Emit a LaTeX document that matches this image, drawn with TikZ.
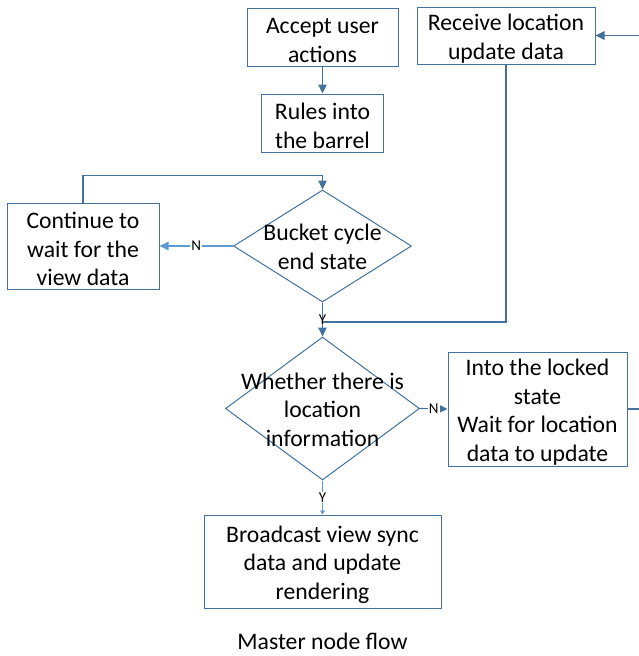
\documentclass[tikz,border=0pt]{standalone}
\usepackage{fontspec}
\setmainfont{Carlito}
\usetikzlibrary{shapes.geometric,arrows.meta}
\definecolor{boxblue}{HTML}{41719C}
\definecolor{lightblue}{HTML}{5B9BD5}
\newcommand{\pad}{\rule{0pt}{22.5pt}}
\begin{document}
\begin{tikzpicture}[
        x=1pt,
        y=-1pt,
        block/.style={
            rectangle,
            draw=boxblue,
            line width=1pt,
            align=center,
            inner sep=0pt,
            font=\fontsize{23.7}{28.5}\selectfont
        },
        decision/.style={
            diamond,
            draw=boxblue,
            line width=1pt,
            inner sep=0pt
        },
        inside/.style={
            align=center,
            inner sep=0pt,
            font=\fontsize{23.7}{28.5}\selectfont
        },
        tag/.style={
            fill=white,
            inner sep=1pt,
            font=\fontsize{15}{15}\selectfont
        },
        arrow/.style={
            -{Triangle[length=9pt,width=8.5pt]},
            draw=boxblue,
            line width=1.2pt
        },
        link/.style={
            draw=boxblue,
            line width=1.2pt
        }
    ]

        \clip (0,0) rectangle (639,656);

        \node[block, minimum width=151pt, minimum height=58pt] (accept) at (322.5,37) {\pad Accept user\\actions};
        \node[block, minimum width=178pt, minimum height=57pt] (receive) at (506,35.5) {\pad Receive location\\update data};
        \node[block, minimum width=122pt, minimum height=58pt] (rules) at (322.5,123) {\pad Rules into\\the barrel};
        \node[block, minimum width=152pt, minimum height=86pt] (wait) at (83,246) {\pad Continue to\\wait for the\\view data};
        \node[decision, minimum width=178pt, minimum height=112pt] (bucket) at (322.5,246) {};
        \node[inside] (bucketlbl) at (322.5,247) {Bucket cycle\\end state};
        \node[decision, minimum width=194pt, minimum height=143pt] (whether) at (322.5,408.5) {};
        \node[inside] (whetherlbl) at (322.5,409.5) {Whether there is\\location\\information};
        \node[block, minimum width=179pt, minimum height=114pt] (locked) at (537.5,409) {\pad Into the locked\\state\\Wait for location\\data to update};
        \node[block, minimum width=237pt, minimum height=93pt] (broadcast) at (322.5,561.5) {\pad Broadcast view sync\\data and update\\rendering};
        \node[inside] (caption) at (322.5,641) {Master node flow};

        \coordinate (merge) at (322.5,322);
        \coordinate (edge) at (660,0);

        \draw[arrow] (accept.south) -- (rules.north);
        \draw[arrow] (wait.north) -- ++(0,-27) -| (bucket.north);
        \draw[arrow, draw=lightblue] (bucket.west) -- node[tag] {N} (wait.east);
        \draw[arrow] (bucket.south) -- node[tag, fill=none] {Y} (whether.north);
        \draw[link] (receive.south) |- (merge);
        \draw[arrow] (whether.east) -- node[tag] {N} (locked.west);
        \draw[arrow, -{Triangle[length=4pt,width=5pt]}, draw=lightblue] (whether.south) -- node[tag] {Y} (broadcast.north);
        \draw[arrow] (locked.east) -- (locked.east -| edge) |- (receive.east);

    \end{tikzpicture}
\end{document}
